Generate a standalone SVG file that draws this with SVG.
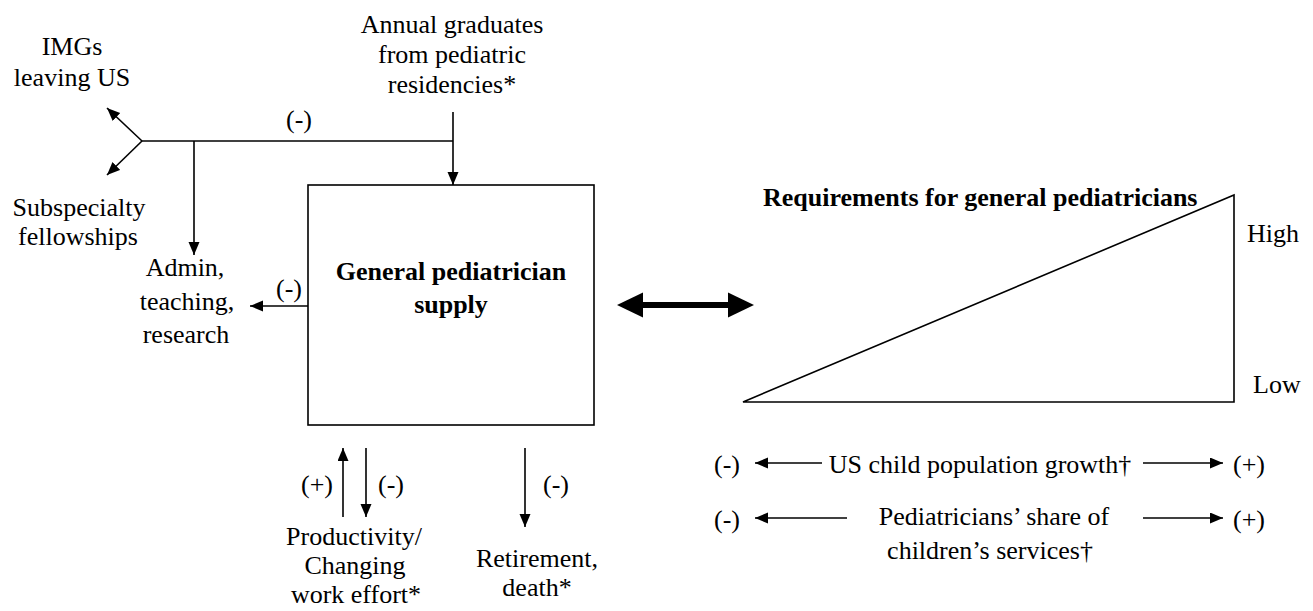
<svg xmlns="http://www.w3.org/2000/svg" width="1313" height="611" viewBox="0 0 1313 611">
<style>
text{font-family:"Liberation Serif","Times New Roman",serif;font-size:26px;fill:#000}
.c{text-anchor:middle}
.b{font-weight:bold}
.ln{stroke:#000;stroke-width:1.6;fill:none}
</style>
<defs>
<marker id="ah" markerUnits="userSpaceOnUse" markerWidth="14" markerHeight="12" refX="13" refY="5.5" orient="auto">
<path d="M0,0 L13,5.5 L0,11 z" fill="#000"/>
</marker>
</defs>
<rect width="1313" height="611" fill="#fff"/>

<g id="connectors">
<line class="ln" x1="142" y1="141" x2="453" y2="141"/>
<line class="ln" x1="453" y1="112" x2="453" y2="185" marker-end="url(#ah)"/>
<line class="ln" x1="194" y1="141" x2="194" y2="255" marker-end="url(#ah)"/>
<line class="ln" x1="142" y1="141" x2="107" y2="108" marker-end="url(#ah)"/>
<line class="ln" x1="142" y1="141" x2="107" y2="175" marker-end="url(#ah)"/>
<line class="ln" x1="308" y1="306" x2="250" y2="306" marker-end="url(#ah)"/>
<line class="ln" x1="343" y1="517" x2="343" y2="448" marker-end="url(#ah)"/>
<line class="ln" x1="366" y1="448" x2="366" y2="517" marker-end="url(#ah)"/>
<line class="ln" x1="525" y1="448" x2="525" y2="527" marker-end="url(#ah)"/>
<g id="double-arrow">
<rect x="641" y="302" width="90" height="6" fill="#000"/>
<path d="M617,305 L643,292.5 L643,317.5 z" fill="#000"/>
<path d="M754,305 L728,292.5 L728,317.5 z" fill="#000"/>
</g>
<line class="ln" x1="822" y1="463" x2="755" y2="463" marker-end="url(#ah)"/>
<line class="ln" x1="1143" y1="463" x2="1223" y2="463" marker-end="url(#ah)"/>
<line class="ln" x1="847" y1="518" x2="755" y2="518" marker-end="url(#ah)"/>
<line class="ln" x1="1143" y1="518" x2="1223" y2="518" marker-end="url(#ah)"/>
<text class="c" x="299" y="128">(-)</text>
<text class="c" x="289" y="297">(-)</text>
<text class="c" x="317" y="493">(+)</text>
<text class="c" x="391" y="493">(-)</text>
<text class="c" x="556" y="493">(-)</text>
<text class="c" x="727" y="473">(-)</text>
<text class="c" x="1249" y="473">(+)</text>
<text class="c" x="727" y="528">(-)</text>
<text class="c" x="1249" y="528">(+)</text>
</g>

<g id="imgs">
<text class="c" x="72" y="55">IMGs</text>
<text class="c" x="72" y="86">leaving US</text>
</g>
<g id="annual-graduates">
<text class="c" x="452" y="33">Annual graduates</text>
<text class="c" x="452" y="63">from pediatric</text>
<text class="c" x="452" y="93">residencies*</text>
</g>
<g id="subspecialty">
<text class="c" x="79" y="216">Subspecialty</text>
<text class="c" x="78" y="245">fellowships</text>
</g>
<g id="admin">
<text class="c" x="185" y="276">Admin,</text>
<text class="c" x="187" y="310">teaching,</text>
<text class="c" x="186" y="343">research</text>
</g>
<g id="supply">
<rect class="ln" x="308" y="185" width="286" height="240"/>
<text class="c b" x="451" y="280">General pediatrician</text>
<text class="c b" x="451" y="313">supply</text>
</g>
<g id="productivity">
<text class="c" x="354" y="545">Productivity/</text>
<text class="c" x="355" y="574">Changing</text>
<text class="c" x="356" y="603">work effort*</text>
</g>
<g id="retirement">
<text class="c" x="537" y="567">Retirement,</text>
<text class="c" x="537" y="596">death*</text>
</g>
<g id="requirements">
<path class="ln" d="M743,402 L1234,195 L1234,402 Z"/>
<text class="b" x="763" y="206">Requirements for general pediatricians</text>
<text x="1247" y="242">High</text>
<text x="1253" y="393">Low</text>
</g>
<g id="child-population">
<text class="c" x="980" y="473">US child population growth†</text>
</g>
<g id="share">
<text class="c" x="994" y="525">Pediatricians’ share of</text>
<text class="c" x="990" y="559">children’s services†</text>
</g>
</svg>
